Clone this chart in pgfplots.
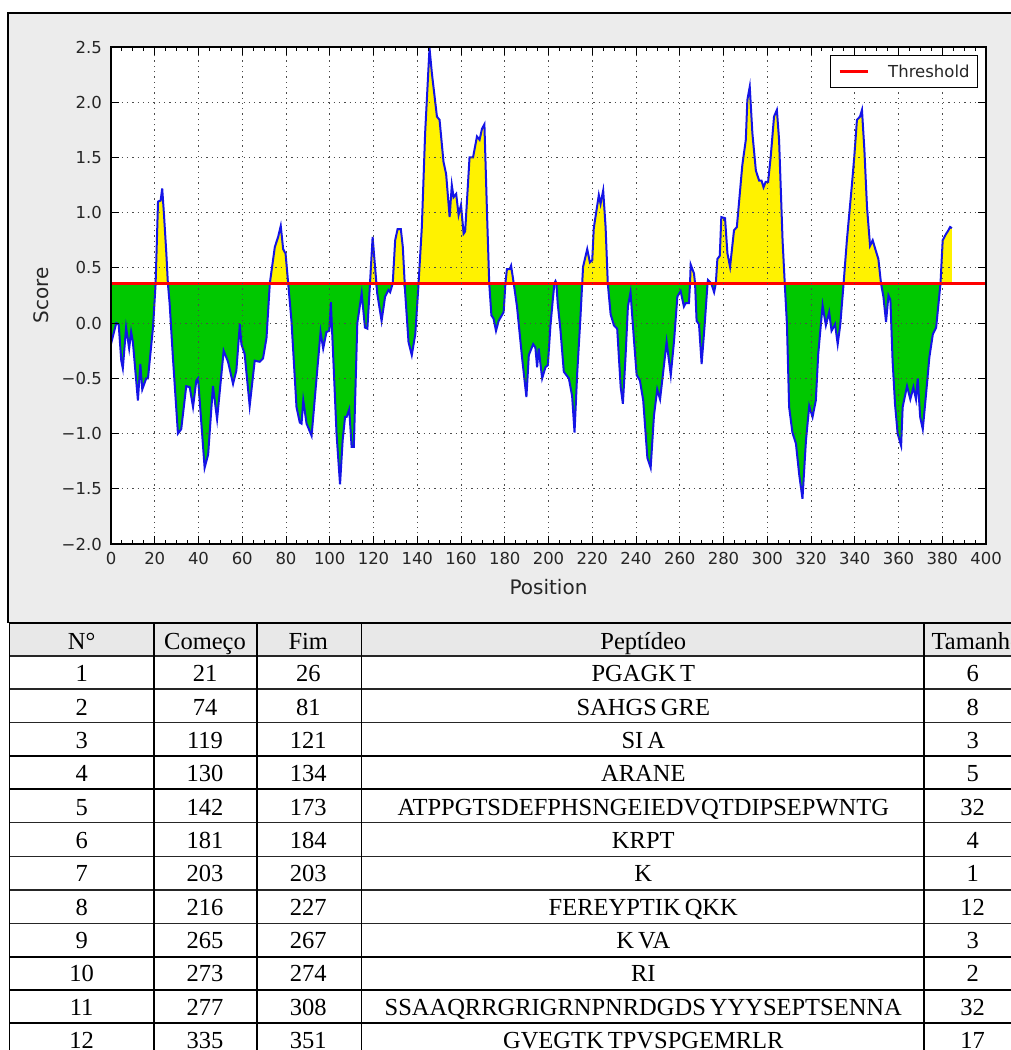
\documentclass[border=0pt]{standalone}
\usepackage{pgfplots}
\usepackage{pgfplotstable}
\pgfplotsset{compat=1.18}
\usepackage{fontspec}
\setmainfont{Liberation Serif}
\newfontfamily\dejavu{DejaVu Sans}
\definecolor{panelgrey}{RGB}{236,236,236}
\definecolor{hdrgrey}{RGB}{232,232,232}
\definecolor{fillgreen}{RGB}{0,200,0}
\definecolor{lineblue}{RGB}{20,20,230}

\pgfplotstableread{
x y
0 -0.19
2.4 0.00
3.5 -0.01
4.7 -0.34
5.4 -0.41
6.9 -0.04
8.3 -0.23
9.2 -0.08
10.0 -0.17
12.3 -0.70
13.4 -0.37
14.3 -0.60
16.1 -0.50
16.9 -0.50
19.2 -0.04
20.4 0.36
21.5 1.10
22.7 1.11
23.4 1.22
24.2 0.99
25.3 0.63
26.0 0.36
26.8 0.18
28.3 -0.31
30.6 -1.00
32.1 -0.96
34.4 -0.57
36.0 -0.58
37.5 -0.76
39.0 -0.52
39.8 -0.50
42.8 -1.31
44.4 -1.19
46.6 -0.57
48.5 -0.87
51.5 -0.25
53.5 -0.35
55.8 -0.55
57.3 -0.43
58.9 -0.01
59.6 -0.19
61.1 -0.28
63.4 -0.75
65.7 -0.34
68.0 -0.35
69.5 -0.32
71.1 -0.13
72.6 0.36
74.9 0.69
76.4 0.78
77.6 0.88
78.7 0.67
79.8 0.63
81.0 0.36
82.5 0.02
84.8 -0.76
86.3 -0.90
87.1 -0.91
87.9 -0.70
89.4 -0.91
91.7 -1.02
94.0 -0.49
95.8 -0.08
97.0 -0.23
98.5 -0.08
99.8 -0.07
100.5 0.19
101.6 -0.31
103.1 -1.00
104.7 -1.46
105.9 -1.06
107.0 -0.85
107.7 -0.85
108.9 -0.78
110.0 -1.12
111.0 -1.12
112.6 0.00
114.6 0.27
116.1 -0.04
117.2 -0.05
118.4 0.36
119.6 0.78
120.7 0.51
121.7 0.27
123.7 0.02
125.3 0.24
126.8 0.30
127.6 0.28
128.8 0.36
129.9 0.75
131.0 0.85
132.5 0.85
133.4 0.69
134.5 0.27
136.0 -0.17
137.5 -0.29
139.1 -0.10
140.6 0.36
142.1 0.87
143.6 1.72
145.6 2.49
146.7 2.26
149.0 1.87
150.2 1.84
152.0 1.46
153.2 1.35
154.8 0.96
155.8 1.25
156.6 1.14
157.8 1.17
158.9 0.98
160.0 1.07
161.2 0.81
161.9 0.83
163.9 1.50
165.5 1.50
167.3 1.69
168.5 1.66
169.6 1.76
170.7 1.80
171.9 0.99
172.9 0.36
173.9 0.07
174.9 0.04
176.0 -0.07
177.2 0.02
179.5 0.10
180.3 0.36
181.0 0.49
182.3 0.49
182.9 0.52
184.1 0.36
185.6 0.15
187.9 -0.31
189.9 -0.67
191.0 -0.29
193.0 -0.19
194.0 -0.22
194.8 -0.40
195.5 -0.23
197.1 -0.50
198.6 -0.40
199.7 -0.38
200.9 -0.02
202.0 0.22
202.7 0.36
203.2 0.38
203.6 0.36
204.2 0.18
205.5 -0.07
207.0 -0.44
209.3 -0.50
210.8 -0.66
211.9 -0.99
213.1 -0.46
214.6 0.05
215.4 0.36
215.8 0.51
217.7 0.67
218.9 0.55
220.0 0.57
220.7 0.86
223.0 1.16
223.8 1.08
225.0 1.20
226.1 0.87
227.1 0.36
228.4 0.08
229.9 -0.02
231.4 -0.05
233.0 -0.58
234.0 -0.73
235.2 -0.31
236.3 0.15
237.5 0.28
239.1 -0.16
240.3 -0.47
241.8 -0.52
243.3 -0.70
245.2 -1.22
246.7 -1.31
248.2 -0.84
249.7 -0.60
251.0 -0.69
252.5 -0.43
254.0 -0.17
255.9 -0.47
257.4 -0.16
258.9 0.24
260.4 0.29
261.9 0.15
262.7 0.18
264.2 0.18
264.7 0.36
265.0 0.53
266.5 0.45
267.0 0.36
267.7 0.02
268.8 -0.01
270.0 -0.37
271.4 -0.01
272.7 0.36
272.9 0.39
274.4 0.36
275.7 0.28
276.5 0.36
277.2 0.58
278.3 0.61
279.0 0.96
280.7 0.95
281.8 0.63
283.0 0.51
284.8 0.84
286.1 0.87
288.6 1.43
290.2 1.66
290.9 2.02
292.0 2.14
293.2 1.72
294.8 1.38
296.3 1.29
297.4 1.29
298.3 1.23
299.3 1.28
300.4 1.28
301.6 1.51
303.1 1.87
304.4 1.93
305.4 1.66
307.0 0.75
308.0 0.36
309.0 -0.01
310.0 -0.76
311.5 -0.99
313.1 -1.09
314.6 -1.37
316.1 -1.59
317.7 -1.06
319.2 -0.75
320.7 -0.85
322.2 -0.70
323.3 -0.28
325.3 0.16
326.8 -0.02
328.3 0.10
329.4 -0.07
331.0 -0.01
332.2 -0.19
333.4 -0.01
334.9 0.36
336.4 0.75
338.6 1.23
339.8 1.51
341.0 1.84
342.4 1.87
343.3 1.93
344.4 1.57
345.6 1.05
347.0 0.70
348.2 0.75
349.4 0.67
350.8 0.58
352.0 0.36
353.1 0.24
354.3 0.01
355.4 0.25
356.3 0.21
357.3 -0.34
358.4 -0.73
359.6 -1.00
361.2 -1.11
361.9 -0.76
363.9 -0.57
365.4 -0.69
366.8 -0.58
368.0 -0.69
368.8 -0.50
369.9 -0.85
371.1 -0.96
372.6 -0.64
374.1 -0.31
375.7 -0.10
377.2 -0.04
379.2 0.36
380.2 0.75
381.8 0.81
382.5 0.83
383.6 0.87
384.4 0.86
}\scoredata

\begin{document}
\begin{tikzpicture}[x=1pt,y=1pt]
\useasboundingbox (0,0) rectangle (1011,-1050);
\fill[white] (0,0) rectangle (1011,-1050);
\fill[panelgrey] (8,-13) rectangle (1011,-623);
\draw[line width=1.5pt] (1011,-13) -- (8,-13) -- (8,-623);

\begin{axis}[
  at={(111pt,-544pt)}, anchor=south west,
  scale only axis, width=875pt, height=497pt,
  xmin=0, xmax=400, ymin=-2, ymax=2.5,
  xtick={0,20,...,400},
  xticklabels={0,20,40,60,80,100,120,140,160,180,200,220,240,260,280,300,320,340,360,380,400},
  ytick={-2,-1.5,-1,-0.5,0,0.5,1,1.5,2,2.5},
  yticklabels={−2.0,−1.5,−1.0,−0.5,0.0,0.5,1.0,1.5,2.0,2.5},
  minor x tick num=3,
  tick align=inside,
  major tick length=8pt, minor tick length=4pt,
  every tick/.style={black, line width=1pt},
  axis line style={black, line width=1.5pt},
  axis background/.style={fill=white},
  axis on top,
  grid=major,
  major grid style={black!70, line width=1pt, dash pattern=on 1.3pt off 4pt},
  xticklabel style={font=\dejavu\fontsize{16.5}{18}\selectfont, text=black!85, inner sep=0pt, anchor=north, yshift=-8pt},
  yticklabel style={font=\dejavu\fontsize{16.5}{18}\selectfont, text=black!85, inner sep=0pt, anchor=east, xshift=-9pt},
  xlabel={Position}, ylabel={Score},
  xlabel style={font=\dejavu\fontsize{20}{22}\selectfont, text=black!85, at={(axis description cs:0.5,0)}, anchor=center, inner sep=0pt, yshift=-43pt},
  ylabel style={font=\dejavu\fontsize{20}{22}\selectfont, text=black!85, at={(axis description cs:0,0.5)}, anchor=center, inner sep=0pt, yshift=70pt},
  legend style={at={(axis description cs:0.9909,0.9839)}, anchor=north east, draw=black, line width=1pt, fill=white,
    font=\dejavu\fontsize{16.5}{18}\selectfont, text=black!85, inner xsep=8pt, inner ysep=9pt,
    nodes={inner sep=0pt}, /tikz/column sep=19pt},
  legend cell align=left,
  legend image code/.code={\draw[#1] (0pt,0pt) -- (28pt,0pt);},
]
\addplot[draw=none, fill=yellow, forget plot] table[x=x, y expr={max(\thisrow{y},0.36)}] {\scoredata}
  -- (axis cs:384.4,0.36) -- (axis cs:0,0.36) -- cycle;
\addplot[draw=none, fill=fillgreen, forget plot] table[x=x, y expr={min(\thisrow{y},0.36)}] {\scoredata}
  -- (axis cs:384.4,0.36) -- (axis cs:0,0.36) -- cycle;
\addplot[lineblue, line width=2pt, forget plot] table[x=x, y=y] {\scoredata};
\addplot[red, line width=3pt] coordinates {(0,0.36) (400,0.36)};
\addlegendentry{Threshold}
\end{axis}

% table
\fill[hdrgrey] (9,-623.3) rectangle (1011,-656);
\foreach \yy in {656,689,722.3,822.7,856.7,890,923.3}{
  \draw[line width=1.1pt, black!85] (9,-\yy) -- (1011,-\yy);
}
\foreach \yy in {623.3,756,789,957.3,990,1023.3}{
  \draw[line width=2pt, black] (9,-\yy) -- (1011,-\yy);
}
\draw[line width=1.3pt] (9.3,-623) -- (9.3,-1050);
\draw[line width=2pt] (154.3,-623) -- (154.3,-1050);
\draw[line width=2pt] (256.7,-623) -- (256.7,-1050);
\draw[line width=1.3pt] (361.7,-623) -- (361.7,-1050);
\draw[line width=2.2pt] (924,-623) -- (924,-1050);

\begin{scope}
\clip (0,0) rectangle (1011,-1050);
\begin{scope}[every node/.style={anchor=base, inner sep=0pt, font=\fontsize{24.5}{28}\selectfont}]
\node at (81.7,-649.3) {N°};
\node at (205,-649.3) {Começo};
\node at (308.3,-649.3) {Fim};
\node at (643.3,-649.3) {Peptídeo};
\node at (977,-649.3) {Tamanho};
\foreach \n/\a/\b/\p/\t [count=\i] in {
  1/21/26/PGAGK\,T/6,
  2/74/81/SAHGS\,GRE/8,
  3/119/121/SI\,A/3,
  4/130/134/ARANE/5,
  5/142/173/ATPPGTSDEFPHSNGEIEDVQTDIPSEPWNTG/32,
  6/181/184/KRPT/4,
  7/203/203/K/1,
  8/216/227/FEREYPTIK\,QKK/12,
  9/265/267/K\,VA/3,
  10/273/274/RI/2,
  11/277/308/SSAAQRRGRIGRNPNRDGDS\,YYYSEPTSENNA/32,
  12/335/351/GVEGTK\,TPVSPGEMRLR/17}{
  \pgfmathsetmacro{\by}{-(681.7+(\i-1)*33.36)}
  \node at (81.7,\by) {\n};
  \node at (205,\by) {\a};
  \node at (308.3,\by) {\b};
  \node at (643.3,\by) {\p};
  \node at (972.7,\by) {\t};
}
\end{scope}
\end{scope}
\end{tikzpicture}
\end{document}
